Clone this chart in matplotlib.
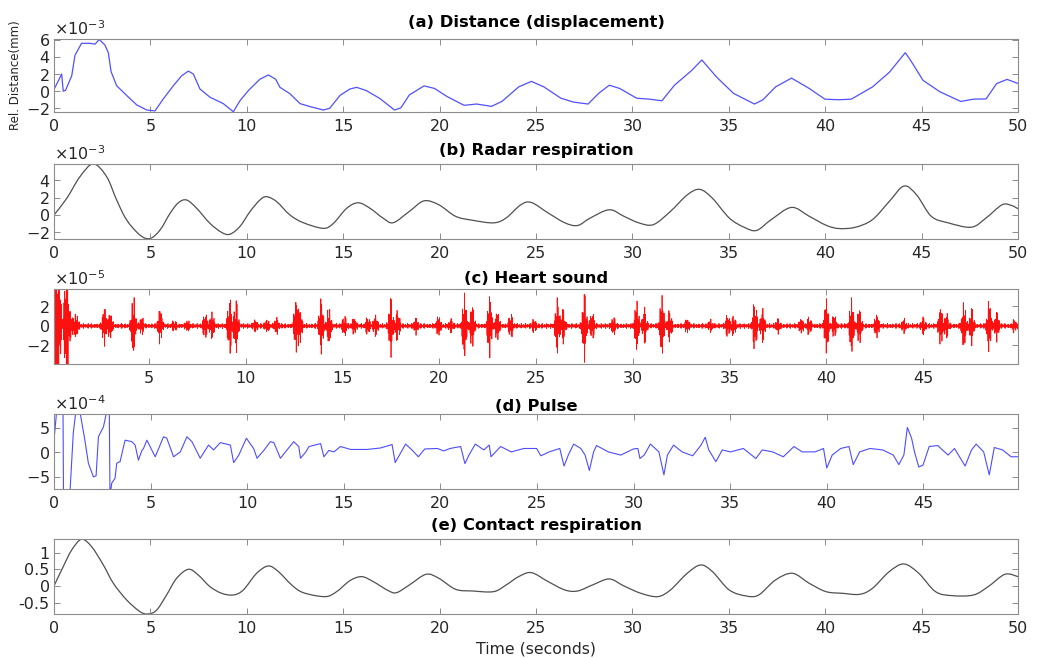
import numpy as np
import matplotlib
matplotlib.use("Agg")
import matplotlib.pyplot as plt
from matplotlib.path import Path
from matplotlib.patches import PathPatch

# (a) distance, units of 1e-3 mm
dist_t = [0, 0.4, 0.48, 0.6, 0.92, 1.09, 1.43, 1.87, 2.13, 2.35, 2.64, 2.82, 2.96, 3.25, 3.77,
          4.29, 4.81, 5.24, 5.67, 6.19, 6.62, 6.97, 7.23, 7.57, 8.09, 8.78, 9.3, 9.65, 10.08,
          10.68, 11.12, 11.5, 11.72, 12.24, 12.76, 13.28, 13.97, 14.3, 14.83, 15.35, 15.7, 16.2,
          16.9, 17.66, 17.99, 18.43, 19.19, 19.74, 20.39, 21.27, 21.92, 22.69, 23.23, 24.1,
          24.76, 25.41, 26.29, 26.94, 27.7, 28.25, 28.8, 29.34, 30.22, 30.87, 31.53, 32.18,
          33.06, 33.6, 34.37, 35.24, 36.33, 36.77, 37.42, 38.25, 39.17, 39.98, 40.7, 41.35,
          42.45, 43.32, 44.15, 44.4, 45.07, 45.94, 47.03, 47.69, 48.34, 48.89, 49.43, 50.0]
dist_v = [0.2, 2.0, 0.0, 0.1, 1.8, 4.2, 5.6, 5.6, 5.5, 6.05, 5.4, 4.5, 2.3, 0.64, -0.5,
          -1.6, -2.2, -2.3, -0.9, 0.64, 1.8, 2.35, 2.0, 0.26, -0.7, -1.45, -2.4, -1.1, 0.07,
          1.4, 1.9, 1.4, 0.45, -0.3, -1.45, -1.8, -2.2, -2.0, -0.5, 0.26, 0.45, 0.07,
          -0.85, -2.2, -1.95, -0.44, 0.62, 0.32, -0.63, -1.65, -1.5, -1.77, -1.2, 0.5,
          1.15, 0.5, -0.82, -1.27, -1.5, -0.25, 0.7, 0.32, -0.82, -0.93, -1.12, 0.7,
          2.4, 3.65, 1.64, -0.25, -1.5, -1.0, 0.5, 1.53, 0.32, -0.93, -1.0, -0.93,
          0.5, 2.2, 4.5, 3.7, 1.27, -0.06, -1.2, -0.93, -0.9, 0.89, 1.38, 0.9]

# (b) radar respiration, units of 1e-3
radar_t = [0, 0.66, 1.35, 2.04, 2.73, 3.25, 3.77, 4.46, 4.98, 5.5, 6.02, 6.45, 6.88, 7.4, 8.09,
           8.7, 9.13, 9.65, 10.17, 10.68, 11.03, 11.55, 12.24, 12.93, 13.97, 14.49, 15.18,
           15.78, 16.39, 17.08, 17.6, 18.43, 19.19, 19.96, 20.83, 21.7, 22.8, 23.45, 24.21,
           24.76, 25.63, 26.5, 27.16, 27.82, 28.8, 29.56, 30.33, 31.09, 31.97, 32.84, 33.49,
           34.15, 35.02, 35.79, 36.44, 37.2, 38.25, 39.17, 40.04, 40.7, 41.57, 42.45, 43.32,
           44.08, 44.74, 45.5, 46.38, 47.58, 48.34, 49.17, 49.65, 50.0]
radar_v = [0, 1.9, 4.4, 5.86, 4.4, 1.72, -0.57, -2.3, -2.7, -1.72, 0.19, 1.4, 1.72, 0.77, -0.96,
           -2.0, -2.2, -1.3, 0.4, 1.72, 2.1, 1.53, 0, -0.88, -1.53, -0.96, 0.77,
           1.4, 0.77, -0.38, -0.88, 0.41, 1.62, 1.17, -0.15, -0.6, -0.9, -0.34, 1.17,
           1.43, 0.23, -0.9, -1.2, -0.34, 0.6, -0.15, -0.9, -1.1, 0.41, 2.3, 2.94,
           1.92, -0.34, -1.4, -1.77, -0.53, 0.87, -0.15, -1.17, -1.55, -1.4, -0.53, 1.55,
           3.32, 2.3, -0.15, -0.9, -1.4, -0.34, 1.17, 1.1, 0.72]

# (c) heart sound bursts: centre time (s) and peak amplitude (units of 1e-5)
heart_t = [0.2, 0.35, 0.75, 1.0, 1.25, 2.7, 3.0, 4.2, 4.63, 5.58, 6.3, 7.0, 7.9, 8.26, 9.17,
           9.5, 10.5, 11.1, 11.6, 12.6, 12.8, 13.9, 14.3, 15.1, 15.6, 16.3, 16.7, 17.5, 17.85,
           18.8, 19.96, 20.6, 21.3, 21.7, 22.6, 23.0, 23.7, 24.9, 26.1, 26.4, 27.5, 27.9, 29.0,
           30.2, 30.6, 31.5, 31.9, 32.8, 34.0, 34.9, 35.2, 36.3, 36.7, 37.5, 38.7, 39.1, 40.0,
           40.4, 41.3, 41.7, 42.6, 44.0, 45.0, 45.9, 46.2, 47.1, 47.5, 48.4, 48.8, 49.7]
heart_a = [9, 6, 9, 1.0, 1.1, 1.9, 1.2, 3.0, 0.8, 1.7, 0.4, 0.4, 1.3, 1.3, 2.9,
           2.8, 0.5, 0.5, 0.7, 2.5, 1.6, 2.8, 1.8, 1.0, 0.7, 0.8, 1.0, 3.0, 1.6,
           0.7, 0.9, 0.6, 3.3, 2.2, 3.2, 1.4, 1.2, 0.6, 2.8, 1.6, 3.5, 1.4, 0.8,
           2.5, 1.8, 3.1, 1.5, 0.6, 0.5, 1.1, 0.9, 2.6, 1.7, 0.6, 0.6, 0.8, 2.8,
           1.1, 2.8, 1.8, 1.1, 0.6, 0.8, 1.9, 1.2, 2.3, 1.8, 2.6, 1.4, 0.5]
heart_floor = 0.15

# (d) pulse, units of 1e-4
pulse_t = [0, 0.14, 0.3, 0.46, 0.5, 0.7, 0.83, 1.0, 1.12, 1.25, 1.38, 1.6, 1.78, 2.04, 2.18,
           2.3, 2.56, 2.7, 2.86, 2.9, 2.99, 3.16, 3.25, 3.42, 3.68, 4.03, 4.2, 4.37, 4.55,
           4.63, 4.81, 5.24, 5.67, 5.84, 6.19, 6.54, 6.88, 7.14, 7.57, 8.0, 8.26, 8.61, 9.13,
           9.3, 9.56, 9.96, 10.34, 10.51, 10.86, 11.2, 11.38, 11.72, 11.98, 12.41, 12.67,
           12.76, 13.02, 13.2, 13.8, 13.97, 14.23, 14.49, 14.83, 15.35, 16.2, 16.9, 17.5,
           17.66, 17.88, 18.2, 18.53, 18.86, 19.19, 19.85, 20.17, 20.5, 21.05, 21.27, 21.48,
           21.81, 22.25, 22.53, 22.62, 23.12, 23.67, 24.32, 24.98, 25.2, 25.63, 26.18, 26.4,
           26.62, 26.9, 27.27, 27.49, 27.71, 27.93, 28.08, 28.69, 29.34, 29.99, 30.22, 30.33,
           30.55, 30.87, 31.31, 31.57, 31.75, 32.07, 32.51, 33.06, 33.49, 33.71, 33.89, 34.26,
           34.59, 35.02, 35.68, 36.33, 36.66, 37.2, 37.75, 38.3, 38.73, 39.39, 39.83, 40.0,
           40.28, 40.72, 41.15, 41.37, 41.7, 42.24, 42.9, 43.44, 43.73, 43.99, 44.17, 44.39,
           44.54, 44.76, 44.98, 45.3, 45.74, 46.28, 46.61, 47.16, 47.49, 47.73, 48.12, 48.41,
           48.67, 49.1, 49.54, 49.9]
pulse_v = [2.4, 8.5, 14, 14, -14, -14, -8, 4, 8, 9, 7.5, 2.5, -2.2, -5.0, -4.8,
           3.2, 5.2, 7.8, 10, -9, -6.3, -5.3, -2.2, -1.9, 2.5, 2.2, 1.5, -1.6, 0.4,
           0.75, 2.5, -0.9, 3.2, 2.9, -0.9, 0.1, 3.2, 2.2, -1.2, 1.5, 0.5, 2.0, 1.5,
           -2.1, -0.6, 2.9, 0.75, -1.2, 0.4, 2.2, 2.0, -1.2, 0.1, 2.2, 1.2,
           -1.2, 0.0, 1.2, 1.8, -0.9, 0.4, 0.1, 1.2, 0.6, 0.6, 0.9, 1.6,
           -2.1, -0.55, 1.7, 0.5, -0.9, 0.7, 0.8, 0.3, 0.8, 1.2, -2.3, -0.55,
           1.7, 0.5, 1.5, -0.9, 1.2, 0.1, 0.8, 0.8, -0.7, 0.1, 0.8, -2.8,
           -0.55, 1.7, 0.8, -0.55, -3.7, 0.1, 1.4, 0.1, -0.55, 0.7, 0.8, -1.25,
           -0.55, 1.7, 0.1, -4.6, -0.55, 1.5, 0.1, -0.7, 1.5, 3.1, 0.5, -1.9,
           0.5, 0.1, 0.8, -1.25, 0.5, 0.1, -0.9, 1.2, 0.1, 0.1, 0.8, -3.2,
           -0.55, 0.8, 1.2, -2.5, 0.1, 0.8, 0.5, -0.55, -2.5, -0.55, 5.1, 2.9,
           0.1, -3.0, -2.6, 1.2, 1.4, -0.55, 0.8, -2.8, 0.5, 1.7, 0.1, -4.6,
           1.0, 0.5, -0.9, -0.9]

# (e) contact respiration
contact_t = [0, 0.48, 0.92, 1.43, 1.95, 2.56, 3.08, 3.77, 4.46, 4.89, 5.33, 5.84, 6.36, 6.97,
             7.48, 8.09, 8.7, 9.3, 9.82, 10.51, 11.12, 11.64, 12.33, 12.93, 14.06, 14.66,
             15.35, 15.96, 16.56, 17.34, 17.77, 18.43, 19.3, 19.96, 20.83, 21.7, 22.8, 23.45,
             24.1, 24.76, 25.63, 26.5, 27.16, 27.93, 28.8, 29.56, 30.44, 31.31, 31.97, 32.84,
             33.54, 34.15, 35.02, 35.9, 36.55, 37.42, 38.3, 39.17, 40.04, 40.9, 41.79, 42.45,
             43.32, 44.08, 44.85, 45.72, 46.59, 47.69, 48.45, 49.32, 50.0]
contact_v = [0, 0.58, 1.08, 1.4, 1.18, 0.63, 0.08, -0.42, -0.77, -0.84, -0.72, -0.27, 0.23, 0.5,
             0.33, -0.02, -0.22, -0.27, -0.12, 0.38, 0.6, 0.43, 0.03, -0.2, -0.32, -0.17,
             0.16, 0.28, 0.13, -0.14, -0.2, 0.03, 0.35, 0.23, -0.1, -0.15, -0.17, 0.03,
             0.28, 0.4, 0.13, -0.12, -0.15, 0.03, 0.21, 0.0, -0.22, -0.32, -0.12, 0.38,
             0.63, 0.43, -0.12, -0.3, -0.27, 0.18, 0.38, 0.08, -0.17, -0.22, -0.25, -0.07,
             0.43, 0.66, 0.38, -0.17, -0.29, -0.27, -0.02, 0.35, 0.28]

titles = ["(a) Distance (displacement)", "(b) Radar respiration", "(c) Heart sound",
          "(d) Pulse", "(e) Contact respiration"]


def smooth_path(t, v):
    # cubic bezier segments through the points (Catmull-Rom tangents)
    p = np.column_stack([t, v])
    n = len(p)
    verts = [p[0]]
    codes = [Path.MOVETO]
    for i in range(n - 1):
        p0, p1, p2, p3 = p[max(i - 1, 0)], p[i], p[i + 1], p[min(i + 2, n - 1)]
        verts += [p1 + (p2 - p0) / 6, p2 - (p3 - p1) / 6, p2]
        codes += [Path.CURVE4] * 3
    return Path(verts, codes)


plt.rcParams["font.family"] = "DejaVu Sans"
plt.rcParams["font.size"] = 11.5
plt.rcParams["axes.unicode_minus"] = False
plt.rcParams["axes.edgecolor"] = "#8c8c8c"
plt.rcParams["axes.linewidth"] = 0.8
plt.rcParams["xtick.color"] = "#8c8c8c"
plt.rcParams["ytick.color"] = "#8c8c8c"
plt.rcParams["xtick.labelcolor"] = "#262626"
plt.rcParams["ytick.labelcolor"] = "#262626"

fig = plt.figure(figsize=(10.4, 6.58), dpi=100)
left, width = 0.0519, 0.927
boxes = [(0.8302, 0.1105), (0.6368, 0.114), (0.4468, 0.1135), (0.2568, 0.1136), (0.0669, 0.1135)]
axes = [fig.add_axes([left, b, width, h]) for b, h in boxes]

# heart sound trace built from the burst list
tt = np.arange(0.1, 49.9, 0.002)
env = np.full_like(tt, heart_floor) * (1 + 0.8 * np.sin(2 * np.pi * 2.3 * tt) ** 2)
for tc, a in zip(heart_t, heart_a):
    env += a * np.exp(-0.5 * ((tt - tc) / 0.08) ** 2)
carrier = np.sin(2 * np.pi * 24 * tt) * np.cos(2 * np.pi * 3.9 * tt + 1.3 * np.sin(2 * np.pi * 0.7 * tt))
heart = env * carrier

axes[0].plot(dist_t, np.array(dist_v) * 1e-3, color="#5050ff", lw=0.9)
axes[1].add_patch(PathPatch(smooth_path(radar_t, np.array(radar_v) * 1e-3),
                            fill=False, edgecolor="#505050", lw=0.9))
axes[2].plot(tt, heart * 1e-5, color="#ff1010", lw=0.55)
axes[3].plot(pulse_t, np.array(pulse_v) * 1e-4, color="#4d4dff", lw=0.8)
axes[4].add_patch(PathPatch(smooth_path(contact_t, contact_v),
                            fill=False, edgecolor="#505050", lw=0.9))

xlims = [(0, 50), (0, 50), (0.1, 49.9), (0, 49.9), (0, 50)]
ylims = [(-2.4e-3, 6.1e-3), (-2.75e-3, 5.85e-3), (-3.9e-5, 3.75e-5), (-7.5e-4, 7.8e-4), (-0.84, 1.4)]
yticks = [[-2e-3, 0, 2e-3, 4e-3, 6e-3], [-2e-3, 0, 2e-3, 4e-3], [-2e-5, 0, 2e-5],
          [-5e-4, 0, 5e-4], [-0.5, 0, 0.5, 1]]
title_pads = [9, 6.6, 4.5, 2.3, 6.6]

for i, ax in enumerate(axes):
    ax.set_xticks(np.arange(0, 51, 5))
    ax.set_yticks(yticks[i])
    ax.set_xlim(*xlims[i])
    ax.set_ylim(*ylims[i])
    ax.tick_params(direction="in", top=True, right=True, length=4, width=0.7,
                   labelsize=11.5, pad=3)
    ax.tick_params(axis="x", pad=5)
    if i < 4:
        ax.ticklabel_format(style="sci", axis="y", scilimits=(0, 0), useMathText=True)
        ax.yaxis.get_offset_text().set_fontsize(11.5)
        ax.yaxis.get_offset_text().set_color("#262626")
    ax.set_title(titles[i], fontsize=11.8, fontweight="bold", pad=title_pads[i])

axes[4].set_yticklabels(["-0.5", "0", "0.5", "1"])
axes[0].set_ylabel("Rel. Distance(mm)", fontsize=8.5, color="#262626")
axes[0].yaxis.set_label_coords(-0.033, 0.5)
axes[4].set_xlabel("Time (seconds)", fontsize=11.3, color="#262626", labelpad=4)

fig.savefig("out.png", dpi=100)
